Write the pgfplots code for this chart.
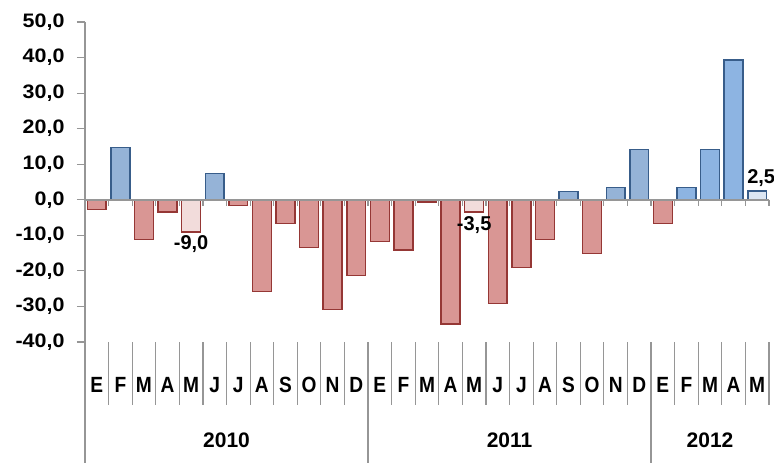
\documentclass[border=0pt]{standalone}
\usepackage{fontspec}
\setmainfont{Liberation Sans}
\newfontfamily\widefont{Liberation Sans}[FakeStretch=1.1]
\newfontfamily\narrowfont{Liberation Sans}[FakeStretch=0.87]
\usepackage{pgfplots}
\pgfplotsset{compat=1.18}
\definecolor{redfill}{HTML}{D99694}
\definecolor{redline}{HTML}{953735}
\definecolor{lightred}{HTML}{F2DCDB}
\definecolor{bluefill}{HTML}{95B3D7}
\definecolor{bluefillb}{HTML}{8DB4E2}
\definecolor{blueline}{HTML}{385D8A}
\definecolor{lightblue}{HTML}{DCE6F2}
\definecolor{axgray}{HTML}{969696}
\begin{document}
\begin{tikzpicture}
\path[use as bounding box] (-85pt,-121pt) rectangle (689pt,342pt);
\begin{axis}[
  at={(0,0)}, anchor=south west,
  scale only axis, width=684pt, height=320pt,
  xmin=-0.5, xmax=28.5, ymin=-40, ymax=50,
  axis y line*=left, axis x line*=bottom,
  x axis line style={draw=none},
  y axis line style={draw=axgray, line width=1.5pt},
  ytick={-40,-30,...,50},
  xtick={0,...,28},
  xticklabels={E,F,M,A,M,J,J,A,S,O,N,D,E,F,M,A,M,J,J,A,S,O,N,D,E,F,M,A,M},
  xtick style={draw=none},
  ytick style={draw=axgray, line width=1.2pt},
  tick align=outside, major tick length=8pt,
  yticklabel style={font=\widefont\fontsize{19.5}{22}\selectfont\bfseries, xshift=-9pt},
  xticklabel style={font=\narrowfont\fontsize{22}{24}\selectfont\bfseries, anchor=center, yshift=-35pt},
  /pgf/number format/use comma,
  /pgf/number format/fixed,
  /pgf/number format/fixed zerofill,
  /pgf/number format/precision=1,
  /pgf/number format/assume math mode=true,
  ybar,
  every axis plot/.append style={bar shift=0pt, bar width=0.8},
  clip=false,
]
% red bars
\addplot[fill=redfill, draw=redline, line width=1.5pt] coordinates {
  (0,-2.8) (2,-11.2) (3,-3.4) (6,-1.6) (7,-25.8) (8,-6.7) (9,-13.4)
  (10,-30.8) (11,-21.3) (12,-11.7) (13,-14.1) (14,-0.6) (15,-34.9)
  (17,-29.2) (18,-19.1) (19,-11.2) (21,-15.1) (24,-6.7)};
% highlighted red bars
\addplot[fill=lightred, draw=redline, line width=1.5pt, nodes near coords,
  every node near coord/.append style={font=\fontsize{20}{22}\selectfont\bfseries, text=black}]
  coordinates {(4,-9.0) (16,-3.5)};
% blue bars 2010-2011
\addplot[fill=bluefill, draw=blueline, line width=1.5pt] coordinates {
  (1,14.7) (5,7.4) (20,2.3) (22,3.5) (23,14.1)};
% blue bars 2012
\addplot[fill=bluefillb, draw=blueline, line width=1.5pt] coordinates {
  (25,3.5) (26,14.1) (27,39.3)};
% highlighted blue bar
\addplot[fill=lightblue, draw=blueline, line width=1.5pt, nodes near coords,
  every node near coord/.append style={font=\fontsize{20}{22}\selectfont\bfseries, text=black, xshift=4pt}]
  coordinates {(28,2.5)};
% zero line and its ticks
\draw[axgray, line width=1.5pt] (axis cs:-0.5,0) -- (axis cs:28.5,0);
\pgfplotsinvokeforeach{-0.5,0.5,...,28.5}{
  \draw[axgray, line width=1.2pt] (axis cs:#1,0) -- ++(0pt,-6pt);
  \draw[axgray, line width=1.2pt] (axis cs:#1,-40) -- ++(0pt,-63pt);
}
\pgfplotsinvokeforeach{-0.5,11.5,23.5}{
  \draw[axgray, line width=1.2pt] (axis cs:#1,-40) -- ++(0pt,-125pt);
}
\node[font=\fontsize{21}{24}\selectfont\bfseries] at (axis cs:5.5,-40) [yshift=-98pt] {2010};
\node[font=\fontsize{21}{24}\selectfont\bfseries] at (axis cs:17.5,-40) [yshift=-98pt] {2011};
\node[font=\fontsize{21}{24}\selectfont\bfseries] at (axis cs:26,-40) [yshift=-98pt] {2012};
\end{axis}
\end{tikzpicture}
\end{document}
